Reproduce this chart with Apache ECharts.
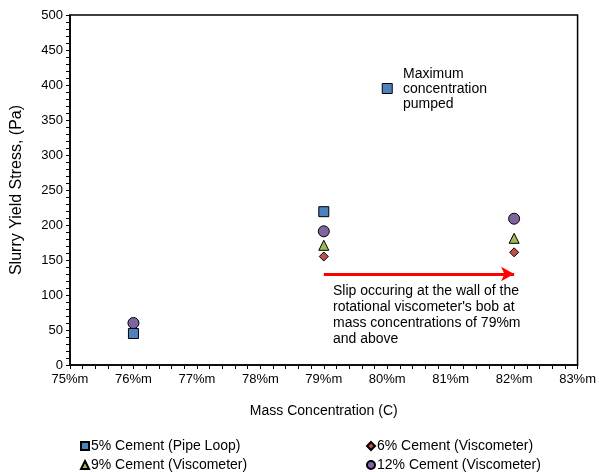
<!DOCTYPE html>
<html>
<head>
<meta charset="utf-8">
<script src="https://cdn.jsdelivr.net/npm/echarts@6/dist/echarts.min.js"></script>
<style>html,body{margin:0;padding:0;background:#fff}#c{width:599px;height:472px}</style>
</head>
<body>
<div id="c"></div>
<script>
var seriesNames = ['5% Cement (Pipe Loop)', '6% Cement (Viscometer)', '9% Cement (Viscometer)', '12% Cement (Viscometer)'];
var pipeLoop5 = [[76, 45], [79, 219], [80, 395]];
var visc6 = [[79, 155], [82, 161]];
var visc9 = [[79, 171], [82, 181]];
var visc12 = [[76, 60], [79, 191], [82, 209]];
var slipArrow = [[79, 130], [82, 130]];
var xTicks = [75, 76, 77, 78, 79, 80, 81, 82, 83];
var yTicks = [0, 50, 100, 150, 200, 250, 300, 350, 400, 450, 500];

var FONT = '"Liberation Sans", Arial, sans-serif';
var chart = echarts.init(document.getElementById('c'));
function mk(name, data, symbol, color, size) {
  return {
    name: name, type: 'scatter', data: data, symbol: symbol, symbolSize: size,
    itemStyle: { color: color, borderColor: '#000', borderWidth: 1, opacity: 1 },
    emphasis: { disabled: true }
  };
}
var s5 = mk(seriesNames[0], pipeLoop5, 'rect', '#4F81BD', 10);
s5.markLine = {
  silent: true, symbol: ['none', 'arrow'], symbolSize: [11, 13],
  lineStyle: { color: '#FF0000', width: 3, type: 'solid' },
  label: { show: false },
  data: [[{ coord: slipArrow[0] }, { coord: slipArrow[1] }]]
};
var legendBase = {
  itemWidth: 8, itemHeight: 8, itemGap: 4, orient: 'vertical', padding: 0,
  textStyle: { fontFamily: FONT, fontSize: 14, color: '#000', padding: [0, 0, 0, -3] }
};
function lg(i, left, top) {
  return Object.assign({}, legendBase, { data: [seriesNames[i]], left: left, top: top });
}
chart.setOption({
  animation: false,
  textStyle: { fontFamily: FONT },
  grid: { left: 70, right: 21, top: 15, bottom: 107, show: true, borderColor: '#000', borderWidth: 1.5, backgroundColor: 'transparent' },
  xAxis: {
    type: 'value', min: xTicks[0], max: xTicks[xTicks.length - 1], interval: 1,
    name: 'Mass Concentration (C)', nameLocation: 'middle', nameGap: 39,
    nameTextStyle: { fontFamily: FONT, fontSize: 14, color: '#000' },
    axisLine: { lineStyle: { color: '#000', width: 1.5 } },
    axisTick: { show: true, length: 4, lineStyle: { color: '#000' } },
    minorTick: { show: true, splitNumber: 5, length: 4, lineStyle: { color: '#000' } },
    splitLine: { show: false },
    axisLabel: { fontFamily: FONT, fontSize: 13, color: '#000', margin: 8, formatter: function (v) { return v + '%m'; } }
  },
  yAxis: {
    type: 'value', min: yTicks[0], max: yTicks[yTicks.length - 1], interval: 50,
    name: 'Slurry Yield Stress, (Pa)', nameLocation: 'middle', nameGap: 45,
    nameTextStyle: { fontFamily: FONT, fontSize: 16, color: '#000' },
    axisLine: { lineStyle: { color: '#000', width: 1.5 } },
    axisTick: { show: true, length: 4, lineStyle: { color: '#000' } },
    minorTick: { show: true, splitNumber: 5, length: 4, lineStyle: { color: '#000' } },
    splitLine: { show: false },
    axisLabel: { fontFamily: FONT, fontSize: 13, color: '#000', margin: 7 }
  },
  legend: [lg(0, 80, 439), lg(1, 366, 439), lg(2, 80, 458), lg(3, 366, 458)],
  series: [
    s5,
    mk(seriesNames[1], visc6, 'diamond', '#C0504D', 9),
    mk(seriesNames[2], visc9, 'triangle', '#9BBB59', 10),
    mk(seriesNames[3], visc12, 'circle', '#8064A2', 11)
  ],
  graphic: [
    { type: 'text', left: 403, top: 67, style: { text: 'Maximum\nconcentration\npumped', font: '14px ' + FONT, fill: '#000', lineHeight: 15 } },
    { type: 'text', left: 333, top: 283, style: { text: "Slip occuring at the wall of the\nrotational viscometer's bob at\nmass concentrations of 79%m\nand above", font: '14px ' + FONT, fill: '#000', lineHeight: 16 } }
  ]
});
</script>
</body>
</html>
